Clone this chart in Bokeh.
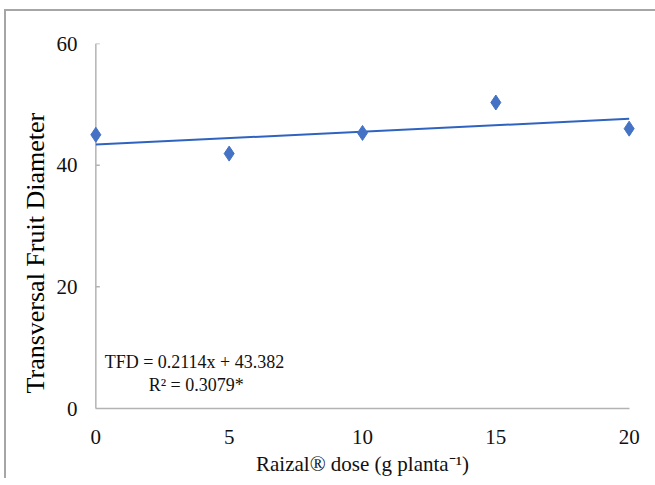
from bokeh.plotting import figure
from bokeh.models import Range1d, Label, FixedTicker, Title
from bokeh.embed import file_html
from bokeh.resources import INLINE

doses = [0, 5, 10, 15, 20]
tfd = [45.0, 41.9, 45.3, 50.3, 46.0]
slope = 0.2114
intercept = 43.382
x_ticks = [0, 5, 10, 15, 20]
y_ticks = [0, 20, 40, 60]
eq_text = "TFD = 0.2114x + 43.382"
r2_text = "R\u00b2 = 0.3079*"
x_label = "Raizal\u00ae dose (g planta\u207b\u00b9)"
y_label = "Transversal Fruit Diameter"

FONT = "Liberation Serif"
AXIS_GRAY = "#b3b3b3"
BLUE = "#4472C4"

p = figure(width=649, height=468, output_backend="svg", toolbar_location=None,
           x_range=Range1d(-0.35, 20.35), y_range=Range1d(0, 60),
           frame_width=552, frame_height=365,
           min_border_left=80, min_border_top=32, min_border_right=17, min_border_bottom=50)
p.outline_line_color = None
p.grid.visible = False
p.background_fill_color = "white"
p.border_fill_color = "white"
p.styles = {"border-top": "2px solid #a6a6a6", "border-left": "2px solid #a6a6a6",
            "border-right": "none", "border-bottom": "none", "box-shadow": "none",
            "margin-top": "9px", "margin-left": "4px"}

# y axis line at x = 0 with inward ticks
p.segment(x0=[x_ticks[0]], y0=[y_ticks[0]], x1=[x_ticks[0]], y1=[y_ticks[-1]],
          line_color=AXIS_GRAY, line_width=1.5)
p.ray(x=[x_ticks[0]] * (len(y_ticks) - 1), y=y_ticks[1:], length=4, length_units="screen",
      angle=0, line_color=AXIS_GRAY, line_width=1.5)

# trendline
tx = [doses[0], doses[-1]]
ty = [intercept + slope * v for v in tx]
p.line(tx, ty, line_color="#2f63c0", line_width=2)

p.scatter(doses, tfd, marker="diamond", size=15, fill_color=BLUE, line_color=BLUE)

# axes
p.xaxis.ticker = FixedTicker(ticks=x_ticks)
p.yaxis.ticker = FixedTicker(ticks=y_ticks)
p.xaxis.bounds = (0, 20)
for ax in (p.xaxis, p.yaxis):
    ax.axis_line_color = AXIS_GRAY
    ax.axis_line_width = 1.5
    ax.major_tick_line_color = AXIS_GRAY
    ax.major_tick_line_width = 1.5
    ax.minor_tick_line_color = None
    ax.major_label_text_font = FONT
    ax.major_label_text_font_size = "21px"
    ax.major_label_text_color = "#111111"
    ax.axis_label_text_font = FONT
    ax.axis_label_text_font_style = "normal"
    ax.axis_label_text_color = "#111111"
    ax.axis_label_text_font_size = "21px"

p.xaxis.major_tick_in = 0
p.xaxis.major_tick_out = 0
p.xaxis.major_label_standoff = 21
p.xaxis.axis_label = x_label
p.xaxis.axis_label_standoff = 5

p.yaxis.axis_line_color = None
p.yaxis.major_tick_line_color = None
p.yaxis.major_tick_in = 0
p.yaxis.major_tick_out = 0
p.yaxis.major_label_standoff = 9

# y axis title as a side title, starting near the bottom like the reference
p.add_layout(Title(text=y_label, align="left", offset=15, standoff=8,
                   text_font=FONT, text_font_size="26px", text_font_style="normal",
                   text_color="black"), "left")

p.add_layout(Label(x=0.33, y=7.6, text=eq_text, text_font=FONT, text_font_size="18px",
                   text_baseline="middle", text_align="left", text_color="#111111"))
p.add_layout(Label(x=1.98, y=3.8, text=r2_text, text_font=FONT, text_font_size="18px",
                   text_baseline="middle", text_align="left", text_color="#111111"))

open("out.html", "w").write(file_html(p, INLINE))
